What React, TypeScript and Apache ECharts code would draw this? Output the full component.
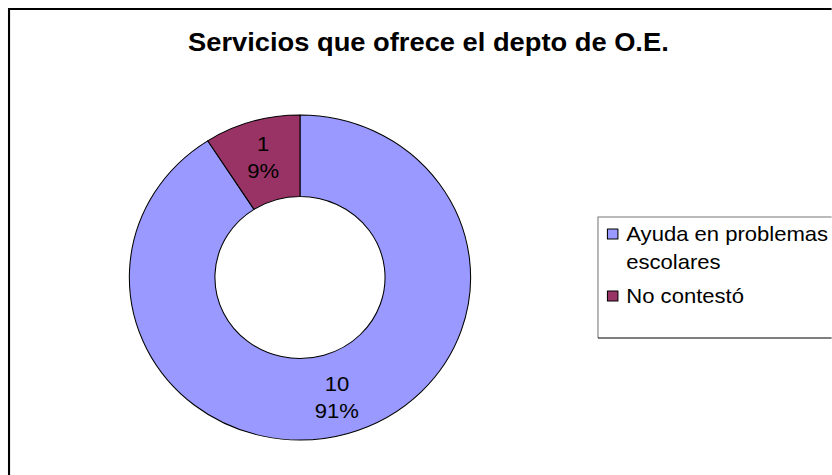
import React, { useEffect, useRef } from "react";
import * as echarts from "echarts";

const titleText = "Servicios que ofrece el depto de O.E.";
const categories = ["Ayuda en problemas\nescolares", "No contestó"];
const values = [10, 1];
const colors = ["#9999FF", "#993366"];

const SX = 1.05;
const W = 832 / SX;
const FONT = "'Liberation Sans', Arial, sans-serif";

export default function App() {
  const ref = useRef<HTMLDivElement>(null);
  useEffect(() => {
    if (!ref.current) return;
    const chart = echarts.init(ref.current, null, { renderer: "svg" });
    chart.setOption({
      animation: false,
      backgroundColor: "#fff",
      title: {
        text: titleText,
        left: 408,
        top: 29,
        padding: 0,
        textAlign: "center",
        textStyle: { fontFamily: FONT, fontSize: 26, fontWeight: "bold", color: "#000" },
      },
      legend: {
        orient: "vertical",
        left: 578,
        top: 192,
        padding: 0,
        itemGap: 6,
        itemWidth: 10,
        itemHeight: 10,
        icon: "rect",
        selectedMode: false,
        itemStyle: { borderColor: "#000", borderWidth: 1 },
        formatter: (name: string) => (name.indexOf("\n") >= 0 ? "{sp| }\n" + name : name),
        textStyle: {
          fontFamily: FONT,
          fontSize: 21,
          lineHeight: 28,
          color: "#000",
          padding: [0, 0, 0, 3],
          rich: { sp: { fontSize: 21, lineHeight: 28 } },
        },
        data: categories.map((c) => ({ name: c })),
      },
      graphic: [
        {
          type: "rect",
          shape: { x: 8.6, y: 9, width: 2000, height: 2000 },
          style: { fill: "none", stroke: "#000", lineWidth: 2 },
          silent: true,
        },
        {
          type: "polyline",
          shape: { points: [[569.5, 338], [569.5, 217], [900, 217]] },
          style: { fill: "none", stroke: "#777", lineWidth: 1 },
          silent: true,
        },
        {
          type: "line",
          shape: { x1: 569.5, y1: 338, x2: 900, y2: 338 },
          style: { stroke: "#000", lineWidth: 1 },
          silent: true,
        },
      ],
      series: [
        {
          type: "pie",
          center: [285.7, 277.5],
          radius: [81, 162.5],
          startAngle: 90,
          clockwise: true,
          percentPrecision: 0,
          avoidLabelOverlap: false,
          emphasis: { disabled: true },
          itemStyle: { borderColor: "#000", borderWidth: 1 },
          label: {
            show: true,
            position: "inside",
            formatter: "{c}\n{d}%",
            fontFamily: FONT,
            fontSize: 21,
            lineHeight: 27,
            color: "#000",
          },
          labelLine: { show: false },
          data: categories.map((c, i) => ({
            name: c,
            value: values[i],
            itemStyle: { color: colors[i] },
          })),
        },
      ],
    });
    return () => chart.dispose();
  }, []);
  return (
    <div
      ref={ref}
      style={{
        position: "fixed",
        left: 0,
        top: 0,
        width: W,
        height: 475,
        transform: `scaleX(${SX})`,
        transformOrigin: "0 0",
      }}
    />
  );
}
